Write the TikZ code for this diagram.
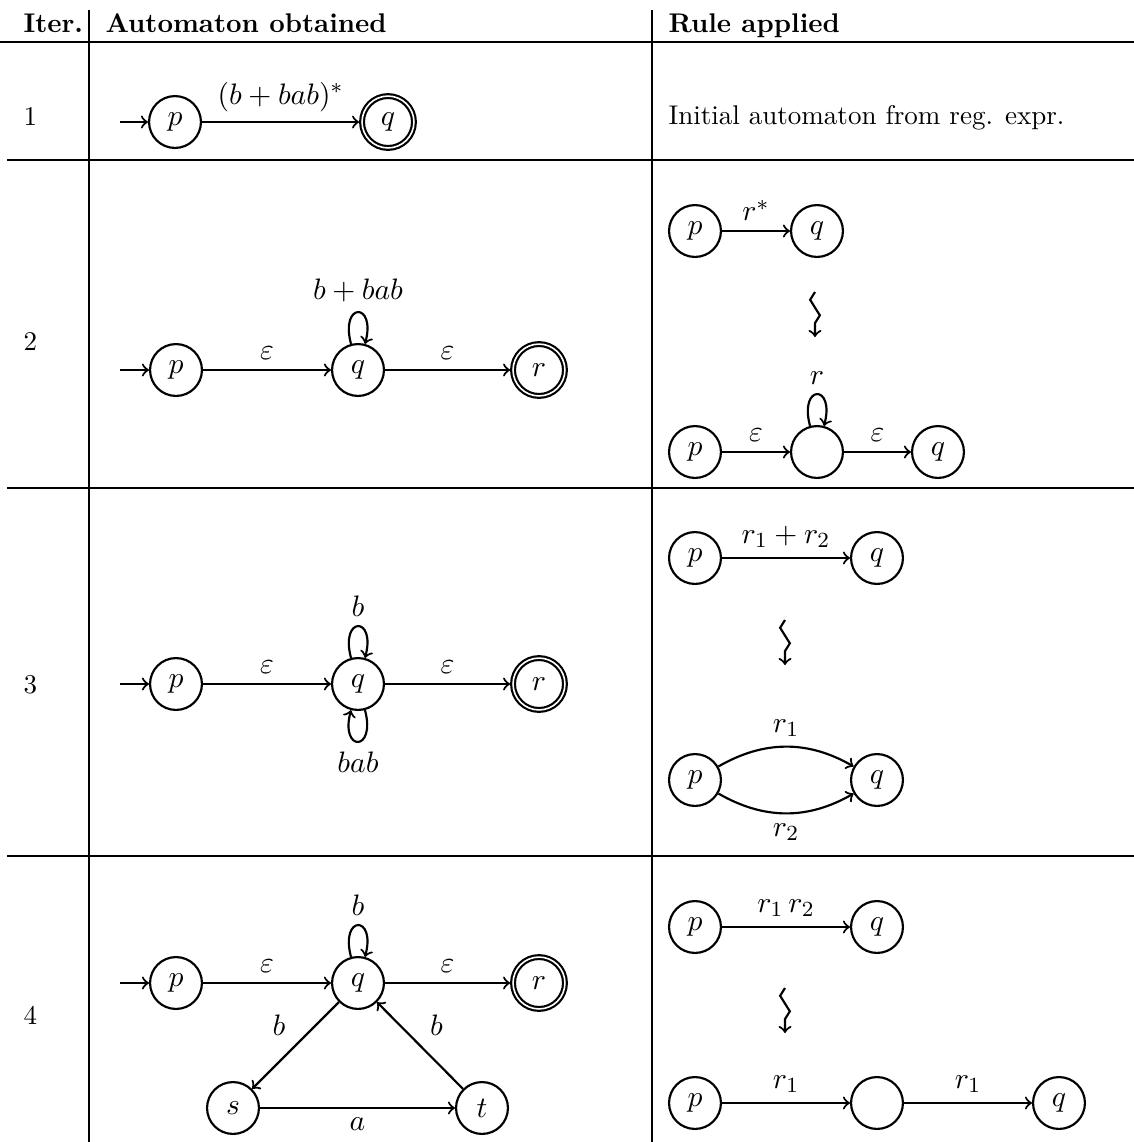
\documentclass[tikz,border=0pt]{standalone}
\usetikzlibrary{decorations.pathmorphing}
\begin{document}
\begin{tikzpicture}[x=0.37pt,y=0.37pt,
  autfont/.style={font=\fontsize{11}{13.5}\selectfont},
  st/.style={circle, draw, thick, minimum size=19.2pt, inner sep=0pt, autfont},
  acc/.style={st, double, double distance=0.6pt, outer sep=1.1pt},
  tr/.style={->, thick, every node/.style={autfont}},
  squig/.style={->, thick, decorate,
    decoration={zigzag, mirror, segment length=11.5pt, amplitude=1.8pt, post length=5pt}},
  tabrule/.style={line width=0.4pt},
  txt/.style={anchor=base west, inner sep=0pt}]
\useasboundingbox (0,0) rectangle (1134,-1142);

% table rules
\draw[tabrule] (89,-10) -- (89,-1142);
\draw[tabrule] (652,-10) -- (652,-1142);
\draw[tabrule] (0,-42) -- (1134,-42);
\draw[tabrule] (7,-160) -- (1134,-160);
\draw[tabrule] (7,-488) -- (1134,-488);
\draw[tabrule] (7,-856) -- (1134,-856);

% header
\node[txt] (hIter) at (23,-32) {\textbf{Iter.}};
\node[txt] (hAut) at (105,-32) {\textbf{Automaton obtained}};
\node[txt] (hRule) at (668,-32) {\textbf{Rule applied}};

% iteration numbers
\node[txt] (n1) at (23,-125) {1};
\node[txt] (n2) at (23,-350) {2};
\node[txt] (n3) at (23,-693) {3};
\node[txt] (n4) at (23,-1024) {4};

% ---- iteration 1
\node[st] (p1) at (175,-122) {$p$};
\node[acc] (q1) at (388,-122) {$q$};
\coordinate (i1) at (120,-122);
\draw[tr] (i1) -- (p1);
\draw[tr] (p1) -- node[above] {$(b+bab)^*$} (q1);
\node[txt] (r1text) at (668,-124) {Initial automaton from reg. expr.};

% ---- iteration 2
\node[st] (p2) at (176,-370) {$p$};
\node[st] (q2) at (358,-370) {$q$};
\node[acc] (r2) at (539,-370) {$r$};
\coordinate (i2) at (120,-370);
\draw[tr] (i2) -- (p2);
\draw[tr] (p2) -- node[above] {$\varepsilon$} (q2);
\draw[tr] (q2) -- node[above] {$\varepsilon$} (r2);
\draw[tr] (q2) to[loop above] node[above] {$b+bab$} (q2);

% rule: star
\node[st] (sp) at (695,-231) {$p$};
\node[st] (sq) at (817,-231) {$q$};
\draw[tr] (sp) -- node[above] {$r^*$} (sq);
\coordinate (z2a) at (815,-292);
\coordinate (z2b) at (815,-337);
\draw[squig] (z2a) -- (z2b);
\node[st] (sp2) at (695,-452) {$p$};
\node[st] (sm2) at (817,-452) {};
\node[st] (sq2) at (938,-452) {$q$};
\draw[tr] (sp2) -- node[above] {$\varepsilon$} (sm2);
\draw[tr] (sm2) -- node[above] {$\varepsilon$} (sq2);
\draw[tr] (sm2) to[loop above] node[above] {$r$} (sm2);

% ---- iteration 3
\node[st] (p3) at (176,-684) {$p$};
\node[st] (q3) at (358,-684) {$q$};
\node[acc] (r3) at (539,-684) {$r$};
\coordinate (i3) at (120,-684);
\draw[tr] (i3) -- (p3);
\draw[tr] (p3) -- node[above] {$\varepsilon$} (q3);
\draw[tr] (q3) -- node[above] {$\varepsilon$} (r3);
\draw[tr] (q3) to[loop above] node[above] {$b$} (q3);
\draw[tr] (q3) to[loop below] node[below] {$bab$} (q3);

% rule: union
\node[st] (up) at (695,-558) {$p$};
\node[st] (uq) at (877,-558) {$q$};
\draw[tr] (up) -- node[above] {$r_1+r_2$} (uq);
\coordinate (z3a) at (785,-620);
\coordinate (z3b) at (785,-665);
\draw[squig] (z3a) -- (z3b);
\node[st] (up2) at (695,-780) {$p$};
\node[st] (uq2) at (877,-780) {$q$};
\draw[tr] (up2) to[bend left=30] node[above] {$r_1$} (uq2);
\draw[tr] (up2) to[bend right=30] node[below] {$r_2$} (uq2);

% ---- iteration 4
\node[st] (p4) at (176,-983) {$p$};
\node[st] (q4) at (358,-983) {$q$};
\node[acc] (r4) at (539,-983) {$r$};
\node[st] (s4) at (233,-1108) {$s$};
\node[st] (t4) at (482,-1108) {$t$};
\coordinate (i4) at (120,-983);
\draw[tr] (i4) -- (p4);
\draw[tr] (p4) -- node[above] {$\varepsilon$} (q4);
\draw[tr] (q4) -- node[above] {$\varepsilon$} (r4);
\draw[tr] (q4) to[loop above] node[above] {$b$} (q4);
\draw[tr] (q4) -- node[above left] {$b$} (s4);
\draw[tr] (s4) -- node[below] {$a$} (t4);
\draw[tr] (t4) -- node[above right] {$b$} (q4);

% rule: concatenation
\node[st] (cp) at (695,-927) {$p$};
\node[st] (cq) at (877,-927) {$q$};
\draw[tr] (cp) -- node[above] {$r_1\,r_2$} (cq);
\coordinate (z4a) at (785,-988);
\coordinate (z4b) at (785,-1033);
\draw[squig] (z4a) -- (z4b);
\node[st] (cp2) at (695,-1103) {$p$};
\node[st] (cm2) at (877,-1103) {};
\node[st] (cq2) at (1059,-1103) {$q$};
\draw[tr] (cp2) -- node[above] {$r_1$} (cm2);
\draw[tr] (cm2) -- node[above] {$r_1$} (cq2);
\end{tikzpicture}
\end{document}
